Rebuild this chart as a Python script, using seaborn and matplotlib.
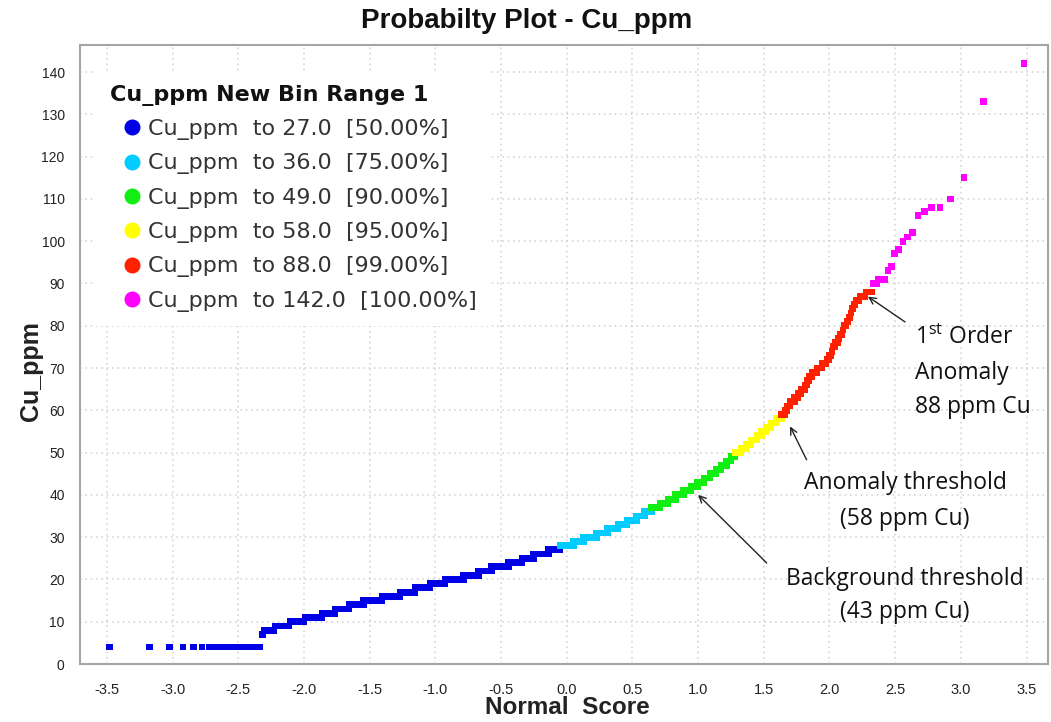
import matplotlib
matplotlib.use("Agg")
import matplotlib.pyplot as plt
import numpy as np
import pandas as pd
import seaborn as sns
from statistics import NormalDist
from matplotlib.lines import Line2D

# ---------------- data ----------------
# Cu_ppm value and how many samples carry that value (n = 2000)
cu_values = [4, 7, 8, 9, 10, 11, 12, 13, 14, 15, 16, 17, 18, 19, 20, 21, 22, 23, 24, 25, 26, 27,
             28, 29, 30, 31, 32, 33, 34, 35, 36,
             37, 38, 39, 40, 41, 42, 43, 44, 45, 46, 47, 48, 49,
             50, 51, 52, 53, 54, 55, 56, 57, 58,
             59, 60, 61, 62, 63, 64, 65, 66, 67, 68, 69, 70, 71, 72, 73, 74, 75, 76, 77, 78, 79, 80,
             81, 82, 83, 84, 85, 86, 87, 88,
             90, 91, 93, 94, 97, 98, 100, 101, 102, 106, 107, 108, 110, 115, 133, 142]
cu_counts = [20, 1, 5, 9, 11, 17, 15, 19, 25, 38, 45, 43, 51, 56, 77, 69, 67, 89, 76, 67, 89, 70,
             81, 61, 79, 63, 60, 51, 50, 41, 37,
             40, 37, 34, 34, 28, 25, 24, 20, 20, 16, 16, 13, 11,
             15, 13, 12, 12, 10, 9, 9, 9, 9,
             5, 4, 4, 6, 5, 4, 4, 3, 2, 3, 5, 5, 4, 2, 2, 1, 2, 2, 1, 2, 1, 2,
             1, 1, 1, 1, 1, 2, 3, 3,
             2, 3, 1, 1, 1, 1, 1, 1, 1, 1, 1, 2, 1, 1, 1, 1]

bin_upper = [27.0, 36.0, 49.0, 58.0, 88.0, 142.0]
bin_pct = ["50.00%", "75.00%", "90.00%", "95.00%", "99.00%", "100.00%"]
bin_colors = ["#0000E6", "#00CCFF", "#11EE11", "#FFFF00", "#FF2000", "#FF00FF"]

x_ticks = [-3.5, -3.0, -2.5, -2.0, -1.5, -1.0, -0.5, 0.0, 0.5, 1.0, 1.5, 2.0, 2.5, 3.0, 3.5]
y_ticks = [0, 10, 20, 30, 40, 50, 60, 70, 80, 90, 100, 110, 120, 130, 140]

# ---------------- probability-plot transform ----------------
samples = np.repeat(cu_values, cu_counts)
n = len(samples)
nd = NormalDist()
scores = [nd.inv_cdf((i - 0.5) / n) for i in range(1, n + 1)]
labels = [f"Cu_ppm  to {u:.1f}  [{p}]" for u, p in zip(bin_upper, bin_pct)]
bin_idx = np.searchsorted(bin_upper, samples, side="left")
df = pd.DataFrame({"score": scores, "cu": samples,
                   "bin": [labels[i] for i in bin_idx]})

# ---------------- figure ----------------
sns.set_theme(style="white")
plt.rcParams["font.family"] = ["DejaVu Sans"]
plt.rcParams["axes.unicode_minus"] = False
plt.rcParams["mathtext.fontset"] = "custom"
plt.rcParams["mathtext.rm"] = "Open Sans"

W, H = 1051, 722
fig = plt.figure(figsize=(W / 100, H / 100), dpi=100)
fig.patch.set_facecolor("white")
ax = fig.add_axes([80 / W, 1 - 664 / H, 968 / W, 619 / H])
ax.set_facecolor("white")

sns.scatterplot(data=df, x="score", y="cu", hue="bin",
                palette=dict(zip(labels, bin_colors)), hue_order=labels,
                marker="s", s=24, linewidth=0, legend=False, ax=ax, zorder=3)

ax.set_xlim(-3.704, 3.663)
ax.set_ylim(0, 146.4)
ax.set_xticks(x_ticks)
ax.set_xticklabels([f"{t:.1f}" for t in x_ticks],
                   fontfamily=["Liberation Sans Narrow", "Liberation Sans"], fontsize=10.5, color="#222222")
ax.set_yticks(y_ticks)
ax.set_yticklabels([str(t) for t in y_ticks],
                   fontfamily=["Liberation Sans"], fontsize=10, color="#222222")
ax.tick_params(axis="x", direction="out", length=4, width=1, color="#999999", pad=10)
ax.tick_params(axis="y", direction="out", length=4, width=1, color="#999999", pad=7)
ax.set_xlabel("")
ax.set_ylabel("")
ax.grid(True, color="#cfcfcf", linestyle=(0, (1, 2.5)), linewidth=1.1, zorder=0)
ax.set_axisbelow(True)
for sp in ax.spines.values():
    sp.set_color("#a5a5a5")
    sp.set_linewidth(1.5)

narrow_bold = dict(fontfamily=["Liberation Sans Narrow", "Liberation Sans"], fontweight="bold")
fig.text(527 / W, 1 - 21 / H, "Probabilty Plot - Cu_ppm", ha="center", va="center",
         fontsize=20, color="#111111", fontfamily=["Liberation Sans"], fontweight="bold")
fig.text(567 / W, 1 - 707 / H, "Normal  Score", ha="center", va="center",
         fontsize=17.5, color="#222222", **narrow_bold)
fig.text(31 / W, 1 - 371 / H, "Cu_ppm", ha="center", va="center", rotation=90,
         fontsize=18, color="#222222", **narrow_bold)

# legend
handles = [Line2D([0], [0], marker="o", linestyle="", markerfacecolor=c,
                  markeredgecolor=c, markersize=10.5) for c in bin_colors]
leg = ax.legend(handles, labels, title="Cu_ppm New Bin Range 1", loc="upper left",
                bbox_to_anchor=(0.017, 0.958), frameon=True, fancybox=False,
                edgecolor="none", facecolor="white", framealpha=1,
                prop={"family": "DejaVu Sans", "size": 16},
                title_fontproperties={"family": "DejaVu Sans", "weight": "bold", "size": 16},
                labelspacing=0.6, handletextpad=-0.3, handlelength=2.0,
                borderpad=0.62, alignment="left", borderaxespad=0)
for t in leg.get_texts():
    t.set_color("#333333")
leg.get_title().set_color("#111111")
leg.set_zorder(5)

# annotations
ann_font = dict(fontfamily=["Open Sans", "DejaVu Sans"], fontsize=16.5, color="#111111")
arrow = dict(arrowstyle="->", color="#222222", lw=1.0, shrinkA=0, shrinkB=0)
ax.annotate("", xy=(2.293, 86.9), xytext=(2.575, 80.9), arrowprops=arrow)
ax.annotate("", xy=(1.70, 56.2), xytext=(1.826, 48.3), arrowprops=arrow)
ax.annotate("", xy=(1.0, 40.0), xytext=(1.522, 23.9), arrowprops=arrow)

ax.text(2.651, 77.1, r"1$^{\mathrm{st}}$ Order", ha="left", va="center", **ann_font)
ax.text(2.651, 68.9, "Anomaly", ha="left", va="center", **ann_font)
ax.text(2.651, 60.8, "88 ppm Cu", ha="left", va="center", **ann_font)
ax.text(2.575, 42.9, "Anomaly threshold", ha="center", va="center", **ann_font)
ax.text(2.575, 34.4, "(58 ppm Cu)", ha="center", va="center", **ann_font)
ax.text(2.575, 20.2, "Background threshold", ha="center", va="center", **ann_font)
ax.text(2.575, 12.4, "(43 ppm Cu)", ha="center", va="center", **ann_font)

fig.savefig("out.png", dpi=100)
